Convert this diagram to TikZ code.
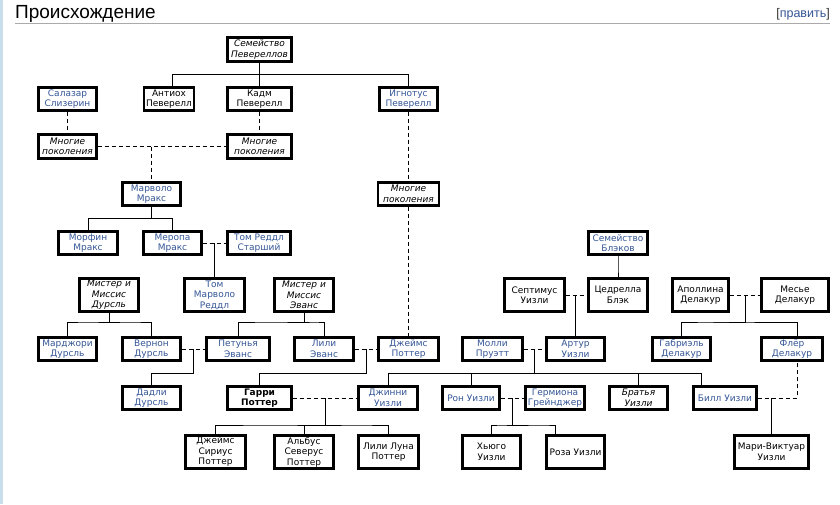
\documentclass[tikz,border=0pt]{standalone}
\usepackage{fontspec}
\setmainfont{Liberation Sans}
\newfontfamily\boxfont{DejaVu Sans}
\usetikzlibrary{calc}
\definecolor{linkblue}{RGB}{52,86,150}
\definecolor{rulegray}{RGB}{170,170,170}
\definecolor{stripblue}{RGB}{200,222,234}
\begin{document}
\begin{tikzpicture}
[x=1pt,y=-1pt,
  personbox/.style={shape=rectangle,draw,line width=2.4pt,fill=white,inner sep=0.5pt,align=center,font=\boxfont\fontsize{9}{10.5}\selectfont},%
  linkname/.style={personbox,text=linkblue},%
  plainname/.style={personbox,text=black},%
  slantname/.style={personbox,font=\boxfont\fontsize{9}{10.5}\selectfont\itshape},%
  boldname/.style={personbox,font=\boxfont\fontsize{9}{10.5}\selectfont\bfseries},%
  thinline/.style={-,line width=0.9pt},%
  treeline/.style={thinline,to path={|- ($(\tikztostart)!.5!(\tikztotarget)$) -| (\tikztotarget)}},%
  dashline/.style={thinline,dash pattern=on 4pt off 3pt}]
\useasboundingbox (0,0) rectangle (840,504);
\fill[white] (0,0) rectangle (840,504);
\fill[stripblue] (0,0) rectangle (2.5,504);
%% heading
\node (title) [anchor=base west,inner sep=0pt,font=\fontsize{19}{22}\selectfont] at (15,18) {Происхождение};
\node (edit) [anchor=base east,inner sep=0pt,font=\fontsize{12.5}{14}\selectfont,text=black!80] at (830,17) {[\textcolor{linkblue}{править}]};
\draw[rulegray,line width=1pt] (15,23) -- (830,23);
%% nodes or vertices
\foreach \nodename/\x/\y/\boxw/\boxh/\nodetext in {sal/67.5/99/58/23/Салазар\\Слизерин,
  ign/408.5/99/58/23/Игнотус\\Певерелл, marv/151.5/194/58/23/Марволо\\Мракс,
  morf/88/243/59/23/Морфин\\Мракс, mer/172.5/243/58/23/Меропа\\Мракс,
  trs/259/243/63/23/Том Реддл\\Старший, blk/618/243/59/23/Семейство\\Блэков,
  tmr/214.5/295/60/33/Том\\Марволо\\Реддл, mar/67.5/349/58/23/Марджори\\Дурсль,
  ver/151.5/349/58/23/Вернон\\Дурсль, pet/238/349/63/23/Петунья\\Эванс,
  lil/324/349/59/23/Лили\\Эванс, jam/408.5/349/60/23/Джеймс\\Поттер,
  mol/492.5/349/60/23/Молли\\Пруэтт, art/575.5/349/58/23/Артур\\Уизли,
  gab/681.5/349/58/23/Габриэль\\Делакур, fle/792/349/61/23/Флёр\\Делакур,
  dad/151.5/398/58/23/Дадли\\Дурсль, gin/388/398/59/23/Джинни\\Уизли,
  ron/471/398/57/23/Рон Уизли, her/555/398/59/23/Гермиона\\Грейнджер,
  bil/725/398/63/23/Билл Уизли} {
  \node (\nodename) at (\x,\y) [linkname,minimum width=\boxw pt,minimum height=\boxh pt] {\nodetext};
}
\foreach \nodename/\x/\y/\boxw/\boxh/\nodetext in {ant/169/99/50/23/Антиох\\Певерелл,
  kad/259.5/99/64/23/Кадм\\Певерелл, sep/534.5/295/60/33/Септимус\\Уизли,
  ced/618/295/59/33/Цедрелла\\Блэк, apo/700.5/295/56/33/Аполлина\\Делакур,
  mes/795/295/67/33/Месье\\Делакур, jss/215.5/452/60/33/Джеймс\\Сириус\\Поттер,
  asp/304/452/59/33/Альбус\\Северус\\Поттер, llp/388.5/452/60/33/Лили Луна\\Поттер,
  hug/491.5/452/58/33/Хьюго\\Уизли, roz/575.5/452/58/33/Роза Уизли,
  mvu/771.5/452/74/33/Мари-Виктуар\\Уизли} {
  \node (\nodename) at (\x,\y) [plainname,minimum width=\boxw pt,minimum height=\boxh pt] {\nodetext};
}
\foreach \nodename/\x/\y/\boxw/\boxh/\nodetext in {pev/259.5/49.5/64/24/Семейство\\Певереллов,
  mnL/67.5/146.5/58/24/Многие\\поколения, mnK/259.5/146.5/64/24/Многие\\поколения,
  mnR/408.5/194/61/23/Многие\\поколения, dmr/109/295/59/33/Мистер и\\Миссис\\Дурсль,
  emr/304/295/59/33/Мистер и\\Миссис\\Эванс, bra/638.5/398/58/23/Братья\\Уизли} {
  \node (\nodename) at (\x,\y) [slantname,minimum width=\boxw pt,minimum height=\boxh pt] {\nodetext};
}
\node (har) at (259.5,398) [boldname,minimum width=64pt,minimum height=23pt] {Гарри\\Поттер};
%% meeting points of couples
\coordinate (mk) at (marv |- mnL);
\coordinate (mt) at (tmr |- mer);
\coordinate (sc) at (art |- sep);
\coordinate (bf) at (mvu |- bil);
\coordinate (vp) at ($(ver.east)!.5!(pet.west)$);
\coordinate (lj) at ($(lil.east)!.5!(jam.west)$);
\coordinate (gg) at ($(har.east)!.5!(gin.west)$);
\coordinate (ad) at ($(apo.east)!.5!(mes.west)$);
\coordinate (ma) at ($(mol.east)!.5!(art.west)$);
\coordinate (rh) at ($(ron.east)!.5!(her.west)$);
%% edges or lines
\path
\foreach \startnode/\endnode in {pev/kad, pev/ign, marv/morf, marv/mer, blk/ced,
  dmr/mar, dmr/ver, emr/pet, emr/lil, mt/tmr, sc/art, vp/dad, lj/har,
  gg/jss, gg/asp, gg/llp, ad/gab, ma/gin, ma/ron, ma/bra, rh/hug, bf/mvu} {
  (\startnode) edge[treeline] (\endnode)
};
\draw[thinline] (pev) |- ($(pev)!.5!(ant)$) -| ([xshift=3pt]ant.north);
\draw[thinline] (ma) |- ($(ma)!.5!(bil)$) -| ([xshift=-23.5pt]bil.north);
\draw[thinline] (ad) |- ($(ad)!.5!(gab)$) -| ([xshift=5pt]fle.north);
\draw[thinline] (rh) |- ($(rh)!.5!(roz)$) -| ([xshift=-20.5pt]roz.north);
%% dashed lines
\path
\foreach \startnode/\endnode in {sal/mnL, kad/mnK, mnL/mnK, mk/marv, ign/mnR,
  mnR/jam, mer/trs, ver/pet, lil/jam, sep/ced, apo/mes, mol/art, har/gin, ron/her} {
  (\startnode) edge[dashline] (\endnode)
};
\draw[dashline] (bil) -| ([xshift=5pt]fle.south);
\end{tikzpicture}
\end{document}
